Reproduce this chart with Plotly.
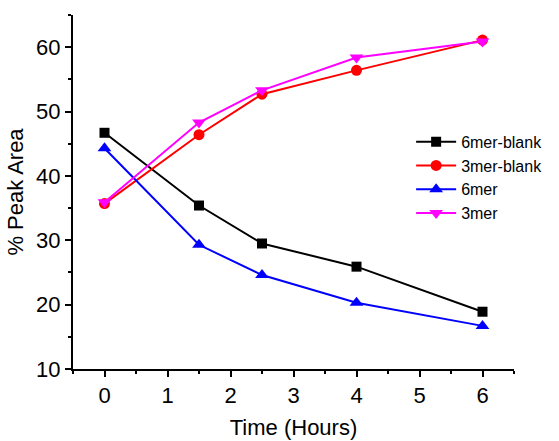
import plotly.graph_objects as go

time_hours = [0, 1.5, 2.5, 4, 6]
blank_6mer = [46.7, 35.4, 29.5, 25.9, 18.9]
blank_3mer = [35.7, 46.4, 52.7, 56.4, 61.1]
mer6 = [44.3, 29.3, 24.6, 20.3, 16.7]
mer3 = [35.9, 48.3, 53.3, 58.4, 60.9]

series = [
    ("6mer-blank", blank_6mer, "#000000", "square", 10),
    ("3mer-blank", blank_3mer, "#ff0000", "circle", 11),
    ("6mer", mer6, "#0000ff", "triangle-up", 12),
    ("3mer", mer3, "#ff00ff", "triangle-down", 12),
]

fig = go.Figure()
for name, vals, col, sym, sz in series:
    fig.add_trace(go.Scatter(
        x=time_hours, y=vals, name=name, mode="lines+markers",
        line=dict(color=col, width=2),
        marker=dict(color=col, symbol=sym, size=sz, line=dict(width=0)),
    ))

font = "Liberation Sans, Arial, sans-serif"
fig.update_layout(
    width=559, height=441,
    margin=dict(l=73, r=44, t=15, b=72),
    plot_bgcolor="white", paper_bgcolor="white",
    font=dict(family=font, size=22, color="black"),
    showlegend=True,
    legend=dict(x=0.765, y=0.69, xanchor="left", yanchor="top",
                font=dict(size=16, family=font), bgcolor="rgba(0,0,0,0)",
                tracegroupgap=0, itemwidth=40),
    xaxis=dict(
        range=[-0.5, 6.5], tickmode="array", tickvals=[0, 1, 2, 3, 4, 5, 6],
        showgrid=False, zeroline=False, showline=True, linecolor="black", linewidth=2,
        ticks="outside", ticklen=6, tickwidth=2, tickcolor="black",
        minor=dict(tickvals=[-0.5, 0.5, 1.5, 2.5, 3.5, 4.5, 5.5, 6.5], ticks="outside", ticklen=3, tickwidth=2, tickcolor="black"),
        title=dict(text="Time (Hours)", font=dict(size=22), standoff=12),
        tickfont=dict(size=22), automargin=False,
    ),
    yaxis=dict(
        range=[10, 65], tickmode="array", tickvals=[10, 20, 30, 40, 50, 60],
        showgrid=False, zeroline=False, showline=True, linecolor="black", linewidth=2,
        ticks="outside", ticklen=6, tickwidth=2, tickcolor="black",
        minor=dict(tickvals=[15, 25, 35, 45, 55, 65], ticks="outside", ticklen=3, tickwidth=2, tickcolor="black"),
        title=dict(text="% Peak Area", font=dict(size=22), standoff=6),
        tickfont=dict(size=22), automargin=False,
    ),
)
fig.write_html("out.html")
